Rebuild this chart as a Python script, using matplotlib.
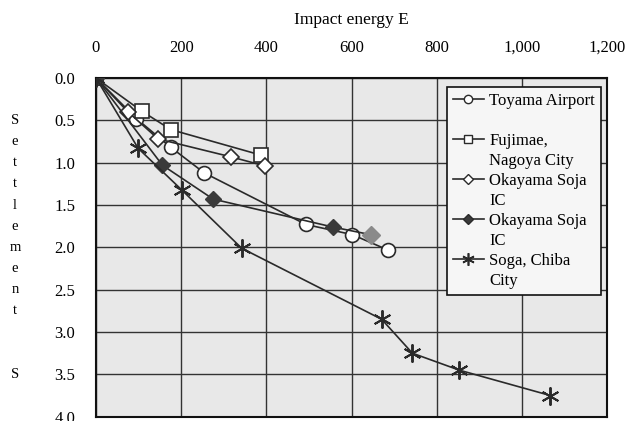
import matplotlib
matplotlib.use("Agg")
import matplotlib.pyplot as plt
from matplotlib.lines import Line2D
import matplotlib.transforms as mtransforms

# ---- data ----
toyama_x = [0, 95, 176, 254, 493, 602, 685]
toyama_y = [0, 0.48, 0.82, 1.12, 1.73, 1.85, 2.03]

fujimae_x = [0, 107, 176, 387]
fujimae_y = [0, 0.39, 0.61, 0.91]

okayama1_x = [0, 75, 146, 316, 398]
okayama1_y = [0, 0.40, 0.72, 0.93, 1.04]

okayama2_x = [0, 156, 275, 556, 645]
okayama2_y = [0, 1.03, 1.43, 1.76, 1.85]

soga_x = [0, 99, 201, 342, 671, 743, 853, 1067]
soga_y = [0, 0.83, 1.32, 2.01, 2.85, 3.25, 3.45, 3.75]

x_ticks = [0, 200, 400, 600, 800, 1000, 1200]
x_tick_labels = ["0", "200", "400", "600", "800", "1,000", "1,200"]
y_ticks = [0.0, 0.5, 1.0, 1.5, 2.0, 2.5, 3.0, 3.5, 4.0]
y_tick_labels = ["0.0", "0.5", "1.0", "1.5", "2.0", "2.5", "3.0", "3.5", "4.0"]

legend_rows = ["Toyama Airport", "", "Fujimae,", "Nagoya City", "Okayama Soja", "IC",
               "Okayama Soja", "IC", "Soga, Chiba", "City"]
ylabel_letters = list("Settlement")
ylabel_last = "S"

plt.rcParams['font.family'] = ['Liberation Serif', 'DejaVu Serif']

fig = plt.figure(figsize=(6.28, 4.21), dpi=100)
ax = fig.add_axes([96/628, 1 - 416.7/421, 511/628, (416.7 - 78)/421])
ax.set_facecolor('#e8e8e8')

lc = '#2a2a2a'
star = (6, 2, 0)
ax.plot(toyama_x, toyama_y, color=lc, lw=1.2, marker='o', ms=10, mfc='white', mec=lc, mew=1.2, zorder=3)
ax.plot(fujimae_x, fujimae_y, color=lc, lw=1.2, marker='s', ms=10, mfc='white', mec=lc, mew=1.2, zorder=3)
ax.plot(okayama1_x, okayama1_y, color=lc, lw=1.2, marker='D', ms=8, mfc='white', mec=lc, mew=1.2, zorder=3)
ax.plot(okayama2_x, okayama2_y, color=lc, lw=1.2, marker='D', ms=8, mfc='#3a3a3a', mec='#3a3a3a', mew=1.0, zorder=3)
ax.plot(okayama2_x[-1:], okayama2_y[-1:], ls='none', marker='D', ms=9, mfc='#8a8a8a', mec='#8a8a8a', zorder=4)
ax.plot(soga_x, soga_y, color=lc, lw=1.2, marker=star, ms=13, mec=lc, mew=1.4, zorder=3)

ax.set_xlim(0, 1200)
ax.set_ylim(4.0, 0.0)
ax.xaxis.tick_top()
ax.xaxis.set_label_position('top')
ax.set_xticks(x_ticks)
ax.set_xticklabels(x_tick_labels)
ax.set_yticks(y_ticks)
ax.set_yticklabels(y_tick_labels)
ax.tick_params(axis='x', length=0, pad=16, labelsize=12)
ax.tick_params(axis='y', length=0, pad=15, labelsize=12)
ax.set_xlabel("Impact energy E", fontsize=12.5, labelpad=11)
ax.grid(True, color='#333333', lw=1.0)
ax.set_axisbelow(True)
for s in ax.spines.values():
    s.set_color('#111111')
    s.set_linewidth(1.5)

# stacked y label letters
trans = mtransforms.blended_transform_factory(fig.transFigure, ax.transData)
for i, ch in enumerate(ylabel_letters):
    fig.text(15/628, 0.5 + 0.25*i, ch, transform=trans, ha='center', va='center', fontsize=10.5)
fig.text(15/628, 3.5, ylabel_last, transform=trans, ha='center', va='center', fontsize=10.5)

# legend
markers = [dict(marker='o', mfc='white'), None, dict(marker='s', mfc='white'), None,
           dict(marker='D', mfc='white', ms=5), None, dict(marker='D', mfc='#3a3a3a', ms=5), None,
           dict(marker=star, ms=9, mew=1.2), None]
handles = []
for m in markers:
    if m is None:
        handles.append(Line2D([], [], ls='none', marker=None))
    else:
        kw = dict(ms=6, mec=lc, mew=1.0)
        kw.update(m)
        handles.append(Line2D([], [], color=lc, lw=1.2, **kw))
leg = ax.legend(handles, legend_rows, loc='upper right', bbox_to_anchor=(0.988, 0.972),
                fontsize=12, handlelength=1.9, handletextpad=0.3, labelspacing=0.24,
                borderpad=0.35, frameon=True, fancybox=False, borderaxespad=0)
leg.get_frame().set_edgecolor('#111111')
leg.get_frame().set_facecolor('#f6f6f6')
leg.get_frame().set_linewidth(1.2)
leg.get_frame().set_alpha(1)

fig.savefig("out.png", dpi=100)
